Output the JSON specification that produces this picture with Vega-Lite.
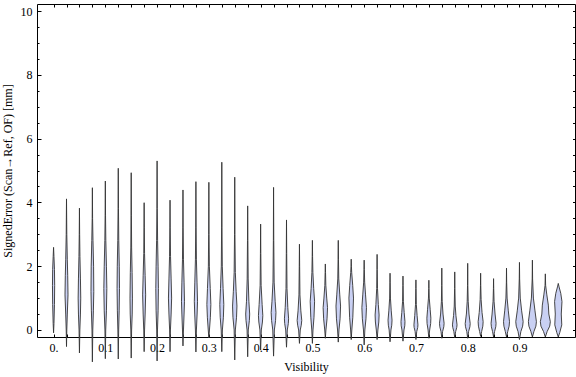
{
"$schema":"https://vega.github.io/schema/vega-lite/v6.json",
"width":538,"height":333,
"autosize":{"type":"none"},
"padding":{"left":37,"top":4,"right":1,"bottom":40},
"config":{"font":"Liberation Serif","view":{"stroke":"#000","strokeWidth":1},
"axis":{"grid":false,"domain":false,"labelFont":"Liberation Serif","titleFont":"Liberation Serif","labelFontSize":12,"titleFontSize":12,"labelColor":"#000","titleColor":"#000","titleFontWeight":"normal","tickColor":"#000","tickWidth":1,"labelFlush":false,"labelOverlap":false}},
"data":{"values":[
{"vis":0.000,"err":-0.09,"dens":0},{"vis":0.000,"err":0.2,"dens":0.4},{"vis":0.000,"err":0.8,"dens":0.9},{"vis":0.000,"err":1.4,"dens":1.1},{"vis":0.000,"err":1.9,"dens":0.9},{"vis":0.000,"err":2.3,"dens":0.4},{"vis":0.000,"err":2.59,"dens":0},
{"vis":0.025,"err":-0.52,"dens":0},{"vis":0.025,"err":0,"dens":0.3},{"vis":0.025,"err":0.5,"dens":0.8},{"vis":0.025,"err":1.1,"dens":1.5},{"vis":0.025,"err":1.7,"dens":1.2},{"vis":0.025,"err":2.2,"dens":0.8},{"vis":0.025,"err":3.0,"dens":0.3},{"vis":0.025,"err":4.11,"dens":0},
{"vis":0.05,"err":-0.72,"dens":0},{"vis":0.05,"err":0,"dens":0.4},{"vis":0.05,"err":0.5,"dens":1.0},{"vis":0.05,"err":1.0,"dens":1.3},{"vis":0.05,"err":1.6,"dens":1.0},{"vis":0.05,"err":2.3,"dens":0.5},{"vis":0.05,"err":3.0,"dens":0.2},{"vis":0.05,"err":3.82,"dens":0},
{"vis":0.075,"err":-1.0,"dens":0},{"vis":0.075,"err":0,"dens":0.4},{"vis":0.075,"err":0.6,"dens":1.0},{"vis":0.075,"err":1.2,"dens":1.4},{"vis":0.075,"err":2.0,"dens":1.2},{"vis":0.075,"err":2.8,"dens":0.6},{"vis":0.075,"err":3.5,"dens":0.2},{"vis":0.075,"err":4.46,"dens":0},
{"vis":0.1,"err":-0.9,"dens":0},{"vis":0.1,"err":0,"dens":0.4},{"vis":0.1,"err":0.6,"dens":1.1},{"vis":0.1,"err":1.3,"dens":1.5},{"vis":0.1,"err":2.0,"dens":1.1},{"vis":0.1,"err":2.8,"dens":0.5},{"vis":0.1,"err":3.6,"dens":0.2},{"vis":0.1,"err":4.67,"dens":0},
{"vis":0.125,"err":-0.91,"dens":0},{"vis":0.125,"err":0,"dens":0.4},{"vis":0.125,"err":0.6,"dens":0.9},{"vis":0.125,"err":1.3,"dens":1.2},{"vis":0.125,"err":2.0,"dens":1.0},{"vis":0.125,"err":2.8,"dens":0.5},{"vis":0.125,"err":3.8,"dens":0.2},{"vis":0.125,"err":5.07,"dens":0},
{"vis":0.15,"err":-0.88,"dens":0},{"vis":0.15,"err":0,"dens":0.4},{"vis":0.15,"err":0.5,"dens":1.0},{"vis":0.15,"err":1.0,"dens":1.2},{"vis":0.15,"err":1.8,"dens":0.9},{"vis":0.15,"err":2.6,"dens":0.4},{"vis":0.15,"err":3.6,"dens":0.2},{"vis":0.15,"err":4.93,"dens":0},
{"vis":0.175,"err":-0.68,"dens":0},{"vis":0.175,"err":0,"dens":0.4},{"vis":0.175,"err":0.5,"dens":1.0},{"vis":0.175,"err":1.1,"dens":1.5},{"vis":0.175,"err":1.7,"dens":1.0},{"vis":0.175,"err":2.4,"dens":0.4},{"vis":0.175,"err":3.2,"dens":0.2},{"vis":0.175,"err":3.99,"dens":0},
{"vis":0.2,"err":-0.97,"dens":0},{"vis":0.2,"err":0,"dens":0.4},{"vis":0.2,"err":0.6,"dens":1.0},{"vis":0.2,"err":1.3,"dens":1.3},{"vis":0.2,"err":2.0,"dens":1.0},{"vis":0.2,"err":2.8,"dens":0.5},{"vis":0.2,"err":3.8,"dens":0.2},{"vis":0.2,"err":5.30,"dens":0},
{"vis":0.225,"err":-0.68,"dens":0},{"vis":0.225,"err":0,"dens":0.4},{"vis":0.225,"err":0.5,"dens":1.1},{"vis":0.225,"err":1.0,"dens":1.6},{"vis":0.225,"err":1.6,"dens":1.1},{"vis":0.225,"err":2.3,"dens":0.5},{"vis":0.225,"err":3.2,"dens":0.2},{"vis":0.225,"err":4.07,"dens":0},
{"vis":0.25,"err":-0.5,"dens":0},{"vis":0.25,"err":0,"dens":0.5},{"vis":0.25,"err":0.5,"dens":1.1},{"vis":0.25,"err":0.9,"dens":1.5},{"vis":0.25,"err":1.5,"dens":1.1},{"vis":0.25,"err":2.2,"dens":0.5},{"vis":0.25,"err":3.2,"dens":0.2},{"vis":0.25,"err":4.39,"dens":0},
{"vis":0.275,"err":-0.69,"dens":0},{"vis":0.275,"err":0,"dens":0.5},{"vis":0.275,"err":0.5,"dens":1.2},{"vis":0.275,"err":0.9,"dens":1.6},{"vis":0.275,"err":1.5,"dens":1.1},{"vis":0.275,"err":2.2,"dens":0.5},{"vis":0.275,"err":3.2,"dens":0.2},{"vis":0.275,"err":4.65,"dens":0},
{"vis":0.3,"err":-0.25,"dens":0},{"vis":0.3,"err":0,"dens":0.6},{"vis":0.3,"err":0.4,"dens":1.5},{"vis":0.3,"err":0.8,"dens":2.0},{"vis":0.3,"err":1.3,"dens":1.4},{"vis":0.3,"err":2.0,"dens":0.5},{"vis":0.3,"err":3.0,"dens":0.2},{"vis":0.3,"err":4.63,"dens":0},
{"vis":0.325,"err":-0.68,"dens":0},{"vis":0.325,"err":0,"dens":0.6},{"vis":0.325,"err":0.4,"dens":1.6},{"vis":0.325,"err":0.8,"dens":2.0},{"vis":0.325,"err":1.3,"dens":1.3},{"vis":0.325,"err":2.0,"dens":0.5},{"vis":0.325,"err":3.2,"dens":0.2},{"vis":0.325,"err":5.26,"dens":0},
{"vis":0.35,"err":-0.94,"dens":0},{"vis":0.35,"err":0,"dens":0.6},{"vis":0.35,"err":0.4,"dens":1.8},{"vis":0.35,"err":0.75,"dens":2.2},{"vis":0.35,"err":1.2,"dens":1.4},{"vis":0.35,"err":1.8,"dens":0.6},{"vis":0.35,"err":3.0,"dens":0.2},{"vis":0.35,"err":4.79,"dens":0},
{"vis":0.375,"err":-0.84,"dens":0},{"vis":0.375,"err":0,"dens":0.6},{"vis":0.375,"err":0.3,"dens":1.7},{"vis":0.375,"err":0.5,"dens":2.0},{"vis":0.375,"err":0.9,"dens":1.2},{"vis":0.375,"err":1.6,"dens":0.5},{"vis":0.375,"err":2.8,"dens":0.2},{"vis":0.375,"err":3.89,"dens":0},
{"vis":0.4,"err":-0.63,"dens":0},{"vis":0.4,"err":0,"dens":0.7},{"vis":0.4,"err":0.25,"dens":1.8},{"vis":0.4,"err":0.45,"dens":2.2},{"vis":0.4,"err":0.8,"dens":1.5},{"vis":0.4,"err":1.4,"dens":0.5},{"vis":0.4,"err":2.4,"dens":0.2},{"vis":0.4,"err":3.32,"dens":0},
{"vis":0.425,"err":-0.82,"dens":0},{"vis":0.425,"err":0,"dens":0.8},{"vis":0.425,"err":0.3,"dens":2.0},{"vis":0.425,"err":0.55,"dens":2.4},{"vis":0.425,"err":0.9,"dens":1.6},{"vis":0.425,"err":1.5,"dens":0.6},{"vis":0.425,"err":2.8,"dens":0.2},{"vis":0.425,"err":4.47,"dens":0},
{"vis":0.45,"err":-0.54,"dens":0},{"vis":0.45,"err":0,"dens":0.8},{"vis":0.45,"err":0.2,"dens":1.8},{"vis":0.45,"err":0.35,"dens":2.1},{"vis":0.45,"err":0.7,"dens":1.3},{"vis":0.45,"err":1.3,"dens":0.5},{"vis":0.45,"err":2.4,"dens":0.2},{"vis":0.45,"err":3.45,"dens":0},
{"vis":0.475,"err":-0.42,"dens":0},{"vis":0.475,"err":0,"dens":0.8},{"vis":0.475,"err":0.15,"dens":1.8},{"vis":0.475,"err":0.3,"dens":2.3},{"vis":0.475,"err":0.6,"dens":1.4},{"vis":0.475,"err":1.1,"dens":0.5},{"vis":0.475,"err":2.0,"dens":0.2},{"vis":0.475,"err":2.69,"dens":0},
{"vis":0.5,"err":-0.42,"dens":0},{"vis":0.5,"err":0,"dens":0.6},{"vis":0.5,"err":0.4,"dens":1.6},{"vis":0.5,"err":0.9,"dens":2.2},{"vis":0.5,"err":1.3,"dens":1.3},{"vis":0.5,"err":1.8,"dens":0.5},{"vis":0.5,"err":2.3,"dens":0.2},{"vis":0.5,"err":2.81,"dens":0},
{"vis":0.525,"err":-0.26,"dens":0},{"vis":0.525,"err":0,"dens":0.6},{"vis":0.525,"err":0.35,"dens":1.7},{"vis":0.525,"err":0.7,"dens":2.2},{"vis":0.525,"err":1.0,"dens":1.4},{"vis":0.525,"err":1.4,"dens":0.5},{"vis":0.525,"err":1.8,"dens":0.2},{"vis":0.525,"err":2.07,"dens":0},
{"vis":0.55,"err":-0.38,"dens":0},{"vis":0.55,"err":0,"dens":0.7},{"vis":0.55,"err":0.35,"dens":1.8},{"vis":0.55,"err":0.75,"dens":2.3},{"vis":0.55,"err":1.1,"dens":1.5},{"vis":0.55,"err":1.6,"dens":0.5},{"vis":0.55,"err":2.2,"dens":0.2},{"vis":0.55,"err":2.81,"dens":0},
{"vis":0.575,"err":-0.3,"dens":0},{"vis":0.575,"err":0,"dens":0.6},{"vis":0.575,"err":0.4,"dens":1.6},{"vis":0.575,"err":1.0,"dens":2.3},{"vis":0.575,"err":1.4,"dens":1.5},{"vis":0.575,"err":1.8,"dens":0.5},{"vis":0.575,"err":2.0,"dens":0.2},{"vis":0.575,"err":2.22,"dens":0},
{"vis":0.6,"err":-0.47,"dens":0},{"vis":0.6,"err":0,"dens":0.7},{"vis":0.6,"err":0.35,"dens":1.8},{"vis":0.6,"err":0.7,"dens":2.3},{"vis":0.6,"err":1.1,"dens":1.4},{"vis":0.6,"err":1.5,"dens":0.5},{"vis":0.6,"err":1.9,"dens":0.2},{"vis":0.6,"err":2.19,"dens":0},
{"vis":0.625,"err":-0.3,"dens":0},{"vis":0.625,"err":0,"dens":0.8},{"vis":0.625,"err":0.25,"dens":1.7},{"vis":0.625,"err":0.47,"dens":2.0},{"vis":0.625,"err":0.8,"dens":1.2},{"vis":0.625,"err":1.3,"dens":0.4},{"vis":0.625,"err":1.9,"dens":0.15},{"vis":0.625,"err":2.37,"dens":0},
{"vis":0.65,"err":-0.37,"dens":0},{"vis":0.65,"err":0,"dens":0.9},{"vis":0.65,"err":0.15,"dens":1.7},{"vis":0.65,"err":0.31,"dens":2.0},{"vis":0.65,"err":0.6,"dens":1.2},{"vis":0.65,"err":1.0,"dens":0.4},{"vis":0.65,"err":1.5,"dens":0.15},{"vis":0.65,"err":1.78,"dens":0},
{"vis":0.675,"err":-0.35,"dens":0},{"vis":0.675,"err":0,"dens":1.0},{"vis":0.675,"err":0.13,"dens":1.8},{"vis":0.675,"err":0.26,"dens":2.0},{"vis":0.675,"err":0.55,"dens":1.2},{"vis":0.675,"err":0.9,"dens":0.4},{"vis":0.675,"err":1.4,"dens":0.15},{"vis":0.675,"err":1.69,"dens":0},
{"vis":0.7,"err":-0.3,"dens":0},{"vis":0.7,"err":-0.05,"dens":0.8},{"vis":0.7,"err":0.08,"dens":1.8},{"vis":0.7,"err":0.16,"dens":2.0},{"vis":0.7,"err":0.45,"dens":1.2},{"vis":0.7,"err":0.8,"dens":0.4},{"vis":0.7,"err":1.3,"dens":0.15},{"vis":0.7,"err":1.57,"dens":0},
{"vis":0.725,"err":-0.26,"dens":0},{"vis":0.725,"err":0,"dens":0.8},{"vis":0.725,"err":0.2,"dens":1.8},{"vis":0.725,"err":0.37,"dens":2.0},{"vis":0.725,"err":0.65,"dens":1.3},{"vis":0.725,"err":1.0,"dens":0.4},{"vis":0.725,"err":1.3,"dens":0.15},{"vis":0.725,"err":1.56,"dens":0},
{"vis":0.75,"err":-0.26,"dens":0},{"vis":0.75,"err":-0.05,"dens":0.8},{"vis":0.75,"err":0.1,"dens":2.0},{"vis":0.75,"err":0.21,"dens":2.3},{"vis":0.75,"err":0.5,"dens":1.2},{"vis":0.75,"err":0.9,"dens":0.4},{"vis":0.75,"err":1.4,"dens":0.15},{"vis":0.75,"err":1.94,"dens":0},
{"vis":0.775,"err":-0.24,"dens":0},{"vis":0.775,"err":-0.05,"dens":0.9},{"vis":0.775,"err":0.08,"dens":2.0},{"vis":0.775,"err":0.16,"dens":2.3},{"vis":0.775,"err":0.45,"dens":1.2},{"vis":0.775,"err":0.75,"dens":0.5},{"vis":0.775,"err":1.3,"dens":0.15},{"vis":0.775,"err":1.82,"dens":0},
{"vis":0.8,"err":-0.26,"dens":0},{"vis":0.8,"err":-0.05,"dens":0.9},{"vis":0.8,"err":0.1,"dens":2.2},{"vis":0.8,"err":0.2,"dens":2.5},{"vis":0.8,"err":0.5,"dens":1.3},{"vis":0.8,"err":0.9,"dens":0.5},{"vis":0.8,"err":1.4,"dens":0.15},{"vis":0.8,"err":2.09,"dens":0},
{"vis":0.825,"err":-0.2,"dens":0},{"vis":0.825,"err":-0.05,"dens":1.0},{"vis":0.825,"err":0.12,"dens":2.2},{"vis":0.825,"err":0.26,"dens":2.5},{"vis":0.825,"err":0.55,"dens":1.4},{"vis":0.825,"err":0.95,"dens":0.5},{"vis":0.825,"err":1.4,"dens":0.15},{"vis":0.825,"err":1.78,"dens":0},
{"vis":0.85,"err":-0.22,"dens":0},{"vis":0.85,"err":-0.05,"dens":1.0},{"vis":0.85,"err":0.1,"dens":2.2},{"vis":0.85,"err":0.21,"dens":2.5},{"vis":0.85,"err":0.5,"dens":1.5},{"vis":0.85,"err":0.9,"dens":0.5},{"vis":0.85,"err":1.3,"dens":0.15},{"vis":0.85,"err":1.61,"dens":0},
{"vis":0.875,"err":-0.22,"dens":0},{"vis":0.875,"err":-0.05,"dens":1.2},{"vis":0.875,"err":0.12,"dens":2.6},{"vis":0.875,"err":0.26,"dens":3.0},{"vis":0.875,"err":0.6,"dens":1.8},{"vis":0.875,"err":1.0,"dens":0.6},{"vis":0.875,"err":1.5,"dens":0.15},{"vis":0.875,"err":1.94,"dens":0},
{"vis":0.9,"err":-0.3,"dens":0},{"vis":0.9,"err":-0.05,"dens":1.4},{"vis":0.9,"err":0.12,"dens":3.2},{"vis":0.9,"err":0.26,"dens":3.7},{"vis":0.9,"err":0.6,"dens":2.2},{"vis":0.9,"err":1.0,"dens":0.8},{"vis":0.9,"err":1.6,"dens":0.2},{"vis":0.9,"err":2.12,"dens":0},
{"vis":0.925,"err":-0.22,"dens":0},{"vis":0.925,"err":-0.05,"dens":1.5},{"vis":0.925,"err":0.12,"dens":3.5},{"vis":0.925,"err":0.26,"dens":4.0},{"vis":0.925,"err":0.6,"dens":2.6},{"vis":0.925,"err":1.0,"dens":1.0},{"vis":0.925,"err":1.6,"dens":0.2},{"vis":0.925,"err":2.19,"dens":0},
{"vis":0.95,"err":-0.22,"dens":0},{"vis":0.95,"err":-0.05,"dens":1.8},{"vis":0.95,"err":0.12,"dens":4.4},{"vis":0.95,"err":0.26,"dens":5.0},{"vis":0.95,"err":0.5,"dens":3.5},{"vis":0.95,"err":0.78,"dens":3.0},{"vis":0.95,"err":1.1,"dens":1.5},{"vis":0.95,"err":1.4,"dens":0.3},{"vis":0.95,"err":1.76,"dens":0},
{"vis":0.975,"err":-0.22,"dens":0},{"vis":0.975,"err":-0.08,"dens":1.5},{"vis":0.975,"err":0.16,"dens":3.5},{"vis":0.975,"err":0.5,"dens":3.0},{"vis":0.975,"err":0.89,"dens":3.7},{"vis":0.975,"err":1.15,"dens":2.5},{"vis":0.975,"err":1.35,"dens":0.8},{"vis":0.975,"err":1.46,"dens":0}
]},
"transform":[
{"calculate":"datum.vis - datum.dens*0.00193","as":"xl"},
{"calculate":"datum.vis + datum.dens*0.00193","as":"xr"}
],
"layer":[
{"mark":{"type":"area","orient":"horizontal","fill":"#c9d0f3","stroke":"#333333","strokeWidth":0.9,"clip":false},
"encoding":{
"x":{"field":"xl","type":"quantitative","scale":{"domain":[-0.032,1.0073],"nice":false,"zero":false},
"axis":{"orient":"bottom","values":[0,0.1,0.2,0.3,0.4,0.5,0.6,0.7,0.8,0.9],"ticks":false,"labelPadding":5,"labelExpr":"datum.value == 0 ? '0.' : format(datum.value, '.1f')","title":"Visibility","titlePadding":8}},
"x2":{"field":"xr"},
"y":{"field":"err","type":"quantitative","scale":{"domain":[-0.22,10.22],"nice":false,"zero":false},
"axis":{"orient":"left","values":[0,2,4,6,8,10],"ticks":false,"labelPadding":5,"title":"SignedError (Scan→Ref, OF) [mm]","titlePadding":6}},
"detail":{"field":"vis","type":"nominal"}}},
{"mark":{"type":"point","opacity":0},
"encoding":{
"x":{"field":"vis","type":"quantitative","scale":{"domain":[-0.032,1.0073],"nice":false,"zero":false},
"axis":{"orient":"bottom","values":[0,0.025,0.05,0.075,0.1,0.125,0.15,0.175,0.2,0.225,0.25,0.275,0.3,0.325,0.35,0.375,0.4,0.425,0.45,0.475,0.5,0.525,0.55,0.575,0.6,0.625,0.65,0.675,0.7,0.725,0.75,0.775,0.8,0.825,0.85,0.875,0.9,0.925,0.95,0.975],"tickSize":-3,"labels":false,"title":null}},
"y":{"field":"err","type":"quantitative","scale":{"domain":[-0.22,10.22],"nice":false,"zero":false},
"axis":{"orient":"left","values":[0,2,4,6,8,10],"tickSize":-4,"labels":false,"title":null}}}},
{"mark":{"type":"point","opacity":0},
"encoding":{
"x":{"field":"vis","type":"quantitative","scale":{"domain":[-0.032,1.0073],"nice":false,"zero":false},
"axis":{"orient":"top","values":[0,0.025,0.05,0.075,0.1,0.125,0.15,0.175,0.2,0.225,0.25,0.275,0.3,0.325,0.35,0.375,0.4,0.425,0.45,0.475,0.5,0.525,0.55,0.575,0.6,0.625,0.65,0.675,0.7,0.725,0.75,0.775,0.8,0.825,0.85,0.875,0.9,0.925,0.95,0.975],"tickSize":-3,"labels":false,"title":null}},
"y":{"field":"err","type":"quantitative","scale":{"domain":[-0.22,10.22],"nice":false,"zero":false},
"axis":{"orient":"left","values":[0,0.5,1,1.5,2,2.5,3,3.5,4,4.5,5,5.5,6,6.5,7,7.5,8,8.5,9,9.5,10],"tickSize":-2,"labels":false,"title":null}}}},
{"mark":{"type":"point","opacity":0},
"encoding":{
"x":{"field":"vis","type":"quantitative","scale":{"domain":[-0.032,1.0073],"nice":false,"zero":false},"axis":null},
"y":{"field":"err","type":"quantitative","scale":{"domain":[-0.22,10.22],"nice":false,"zero":false},
"axis":{"orient":"right","values":[0,0.5,1,1.5,2,2.5,3,3.5,4,4.5,5,5.5,6,6.5,7,7.5,8,8.5,9,9.5,10],"tickSize":-2.5,"labels":false,"title":null}}}}
],
"resolve":{"axis":{"x":"independent","y":"independent"}}
}
